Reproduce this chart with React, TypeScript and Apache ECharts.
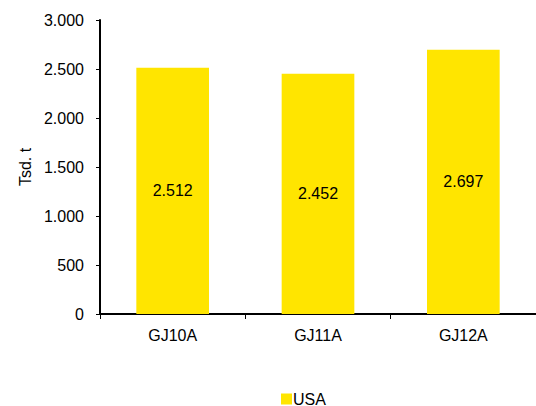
import React, { useEffect, useRef } from "react";
import * as echarts from "echarts";

const categories = ["GJ10A", "GJ11A", "GJ12A"];
const usaValues = [2512, 2452, 2697];
const seriesName = "USA";
const yAxisName = "Tsd. t";

function fmt(v: number): string {
  const s = Math.round(v).toString();
  return s.replace(/\B(?=(\d{3})+(?!\d))/g, ".");
}

export default function App() {
  const ref = useRef<HTMLDivElement>(null);
  useEffect(() => {
    if (!ref.current) return;
    const chart = echarts.init(ref.current, null, { renderer: "svg" });
    const font = "Liberation Sans, Arial, sans-serif";
    chart.setOption({
      animation: false,
      textStyle: { fontFamily: font },
      grid: { left: 100, right: 0, top: 20, bottom: 92, containLabel: false },
      legend: {
        data: [seriesName],
        top: 391,
        left: 281,
        padding: 0,
        icon: "rect",
        itemWidth: 11,
        itemHeight: 11,
        itemGap: 4,
        textStyle: { color: "#000", fontSize: 16, fontFamily: font, padding: [0, 0, 0, -4] },
      },
      xAxis: {
        type: "category",
        data: categories,
        axisLine: { lineStyle: { color: "#000", width: 2 } },
        axisTick: { show: true, length: 5, lineStyle: { color: "#000", width: 1 } },
        axisLabel: { color: "#000", fontSize: 16, fontFamily: font, margin: 13 },
      },
      yAxis: {
        type: "value",
        min: 0,
        max: 3000,
        interval: 500,
        name: yAxisName,
        nameLocation: "middle",
        nameGap: 66,
        nameRotate: 90,
        nameTextStyle: { color: "#000", fontSize: 16, fontFamily: font },
        axisLine: { show: true, lineStyle: { color: "#000", width: 2 } },
        axisTick: { show: true, length: 4, lineStyle: { color: "#000", width: 1 } },
        axisLabel: { color: "#000", fontSize: 16, fontFamily: font, margin: 16, formatter: (v: number) => fmt(v) },
        splitLine: { show: false },
      },
      series: [
        {
          name: seriesName,
          type: "bar",
          data: usaValues,
          barWidth: "50%",
          itemStyle: { color: "#FFE500" },
          label: {
            show: true,
            position: "inside",
            color: "#000",
            fontSize: 16,
            fontFamily: font,
            formatter: (p: any) => fmt(p.value),
          },
        },
      ],
    });
    return () => chart.dispose();
  }, []);
  return (
    <div
      ref={ref}
      style={{ position: "absolute", left: 0, top: 0, width: 536, height: 406 }}
    />
  );
}
